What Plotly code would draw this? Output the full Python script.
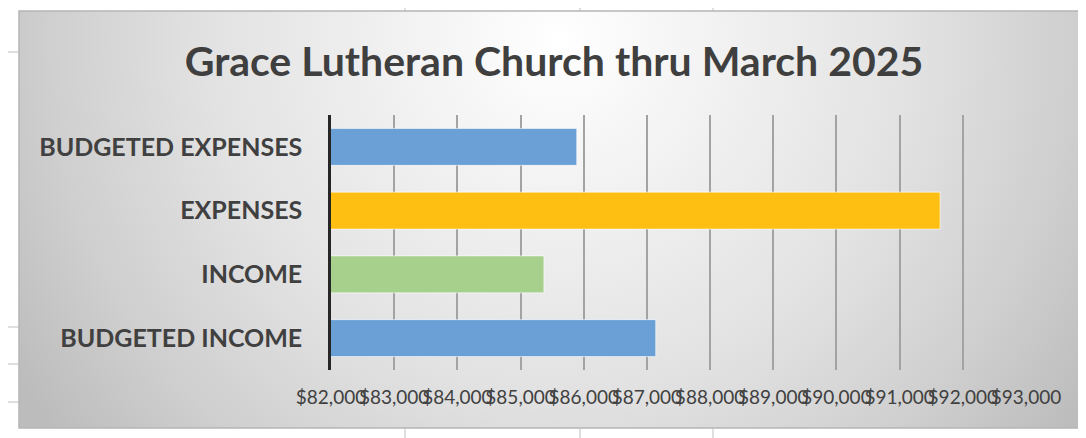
import base64
import plotly.graph_objects as go

# ---- data ----
categories = ["BUDGETED INCOME", "INCOME", "EXPENSES", "BUDGETED EXPENSES"]
values = [87140, 85370, 91640, 85890]
bar_colors = ["#6aa0d6", "#a6d08c", "#ffbe12", "#6aa0d6"]
title_text = "Grace Lutheran Church thru March 2025"
x_min, x_max, x_step = 82000, 93000, 1000

# ---- layout geometry ----
# the page puts the figure 8px in from the window edge; positions below are window pixels
OFF = 8
W, H = 1086 - OFF, 438 - OFF
L = 331 - OFF
T = 115 - OFF
R = W - (1026 - OFF)
B = H - (370 - OFF)
PW, PH = W - L - R, H - T - B

def px(x):
    return (x - OFF - L) / PW

def py(y):
    return (H - B - (y - OFF)) / PH

# chart-area background: radial gradient as inline SVG
cx0, cy0, cx1, cy1 = 19, 11, 1100, 428
gw, gh = cx1 - cx0, cy1 - cy0
svg = (
    f'<svg xmlns="http://www.w3.org/2000/svg" width="{gw}" height="{gh}" viewBox="0 0 {gw} {gh}" preserveAspectRatio="none">'
    f'<defs><radialGradient id="g" gradientUnits="userSpaceOnUse" cx="{560-cx0}" cy="{40-cy0}" r="640">'
    '<stop offset="0" stop-color="#ffffff"/>'
    '<stop offset="0.15" stop-color="#f7f7f7"/>'
    '<stop offset="0.55" stop-color="#e2e2e2"/>'
    '<stop offset="0.8" stop-color="#cfcfcf"/>'
    '<stop offset="1" stop-color="#bcbcbc"/>'
    '</radialGradient></defs>'
    f'<rect x="0" y="0" width="{gw}" height="{gh}" fill="url(#g)"/></svg>'
)
src = "data:image/svg+xml;base64," + base64.b64encode(svg.encode()).decode()

fig = go.Figure()
fig.add_trace(go.Bar(
    y=categories, x=values, orientation="h",
    marker=dict(color=bar_colors, line=dict(color="rgba(255,255,255,0.6)", width=1)),
    hoverinfo="skip",
))

shapes = []
# spreadsheet remnants outside the chart
for yy in [52, 327, 364, 402]:
    shapes.append(dict(type="line", xref="paper", yref="paper", x0=px(8), x1=px(19), y0=py(yy), y1=py(yy),
                       line=dict(color="#d4d4d4", width=1.5), layer="below"))
for xx in [405, 580, 713]:
    shapes.append(dict(type="line", xref="paper", yref="paper", x0=px(xx), x1=px(xx), y0=py(8), y1=py(11),
                       line=dict(color="#d4d4d4", width=1.5), layer="below"))
    shapes.append(dict(type="line", xref="paper", yref="paper", x0=px(xx), x1=px(xx), y0=py(429), y1=py(438),
                       line=dict(color="#d4d4d4", width=1.5), layer="below"))
# chart area border
shapes.append(dict(type="rect", xref="paper", yref="paper", x0=px(cx0), x1=px(1095), y0=py(cy1), y1=py(cy0),
                   line=dict(color="#b5b5b5", width=1.5), fillcolor="rgba(0,0,0,0)", layer="below"))

fig.update_layout(
    width=W, height=H,
    margin=dict(l=L, r=R, t=T, b=B, pad=0),
    paper_bgcolor="white",
    plot_bgcolor="rgba(0,0,0,0)",
    showlegend=False,
    bargap=0.42,
    images=[dict(source=src, xref="paper", yref="paper", x=px(cx0), y=py(cy0),
                 sizex=gw / PW, sizey=gh / PH, xanchor="left", yanchor="top",
                 sizing="stretch", layer="below")],
    shapes=shapes,
    title=dict(text=title_text, x=(554 - OFF) / W, xref="container", xanchor="center",
               y=1 - (62 - OFF) / H, yref="container", yanchor="middle",
               font=dict(family="Lato", size=41, color="#3f3f3f", weight="bold")),
    xaxis=dict(range=[x_min, x_max], dtick=x_step, tick0=x_min, tickprefix="$", tickformat=",.0f",
               tickangle=0, showgrid=True, gridcolor="#a3a3a3", gridwidth=1.5, zeroline=False,
               showline=False, ticks="", ticklabelstandoff=14,
               tickfont=dict(family="Lato", size=19, color="#404040")),
    yaxis=dict(categoryorder="array", categoryarray=categories, showgrid=False, zeroline=False,
               showline=True, linecolor="#262626", linewidth=2.5, ticks="", ticklabelstandoff=21,
               tickfont=dict(family="Lato", size=25, color="#404040", weight="bold")),
)

fig.write_html("out.html")
